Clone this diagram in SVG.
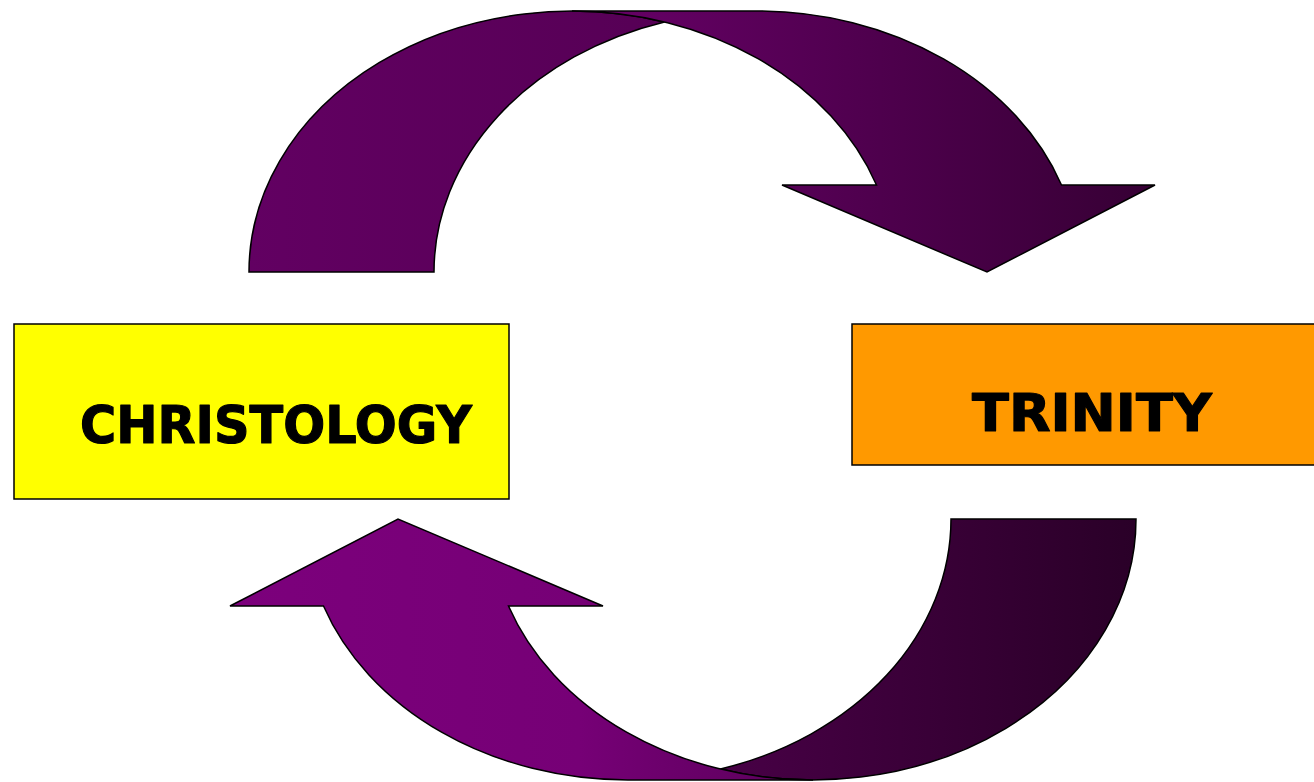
<svg xmlns="http://www.w3.org/2000/svg" width="1314" height="782" viewBox="0 0 1314 782">
  <defs>
    <!-- horizontal shading for the arrow bands (page coordinates) -->
    <linearGradient id="gTopFront" gradientUnits="userSpaceOnUse" x1="572" y1="0" x2="1155" y2="0">
      <stop offset="0" stop-color="#690069"/>
      <stop offset="1" stop-color="#360034"/>
    </linearGradient>
    <linearGradient id="gTopBack" gradientUnits="userSpaceOnUse" x1="249" y1="0" x2="665" y2="0">
      <stop offset="0" stop-color="#620062"/>
      <stop offset="1" stop-color="#560055"/>
    </linearGradient>
    <linearGradient id="gBotFront" gradientUnits="userSpaceOnUse" x1="230" y1="0" x2="813" y2="0">
      <stop offset="0" stop-color="#7c007c"/>
      <stop offset="0.6" stop-color="#760076"/>
      <stop offset="1" stop-color="#5a005a"/>
    </linearGradient>
    <linearGradient id="gBotBack" gradientUnits="userSpaceOnUse" x1="720" y1="0" x2="1136" y2="0">
      <stop offset="0" stop-color="#480046"/>
      <stop offset="1" stop-color="#2a0028"/>
    </linearGradient>
  </defs>
  <style>
    .band { stroke: #000; stroke-width: 1.5; stroke-linejoin: miter; }
    .box { stroke: #000; stroke-width: 1.5; }
    .label { font-family: "Comic Sans MS", "DejaVu Sans", sans-serif; font-weight: bold; fill: #000; stroke: #000; stroke-width: 1.2; stroke-linejoin: round; }
  </style>

  <rect width="1314" height="782" fill="#fff"/>

  <!-- curved arrows linking the two topics -->
  <g id="connectors">
    <g id="arrow-top">
      <path class="band" fill="url(#gTopBack)" d="M249,272 A323,261 0 0 1 664.5,22 A323,261 0 0 0 434,272 Z"/>
      <path class="band" fill="url(#gTopFront)" d="M572,11 L757,11 A323,261 0 0 1 1061.5,185 L1155,185 L987,272 L782,185 L876.5,185 A323,261 0 0 0 572,11 Z"/>
    </g>
    <g id="arrow-bottom">
      <path class="band" fill="url(#gBotBack)" d="M1136,519 A323,261 0 0 1 720.5,769 A323,261 0 0 0 951,519 Z"/>
      <path class="band" fill="url(#gBotFront)" d="M813,780 L628,780 A323,261 0 0 1 323.5,606 L230,606 L398,519 L603,606 L508.5,606 A323,261 0 0 0 813,780 Z"/>
    </g>
  </g>

  <g id="christology">
    <rect class="box" x="14" y="324" width="495" height="175" fill="#ffff00"/>
    <text class="label" x="80" y="443" font-size="52" textLength="392" lengthAdjust="spacingAndGlyphs">CHRISTOLOGY</text>
  </g>

  <g id="trinity">
    <rect class="box" x="852" y="324" width="470" height="141" fill="#ff9900"/>
    <text class="label" x="972" y="431" font-size="52" textLength="240" lengthAdjust="spacingAndGlyphs">TRINITY</text>
  </g>
</svg>
